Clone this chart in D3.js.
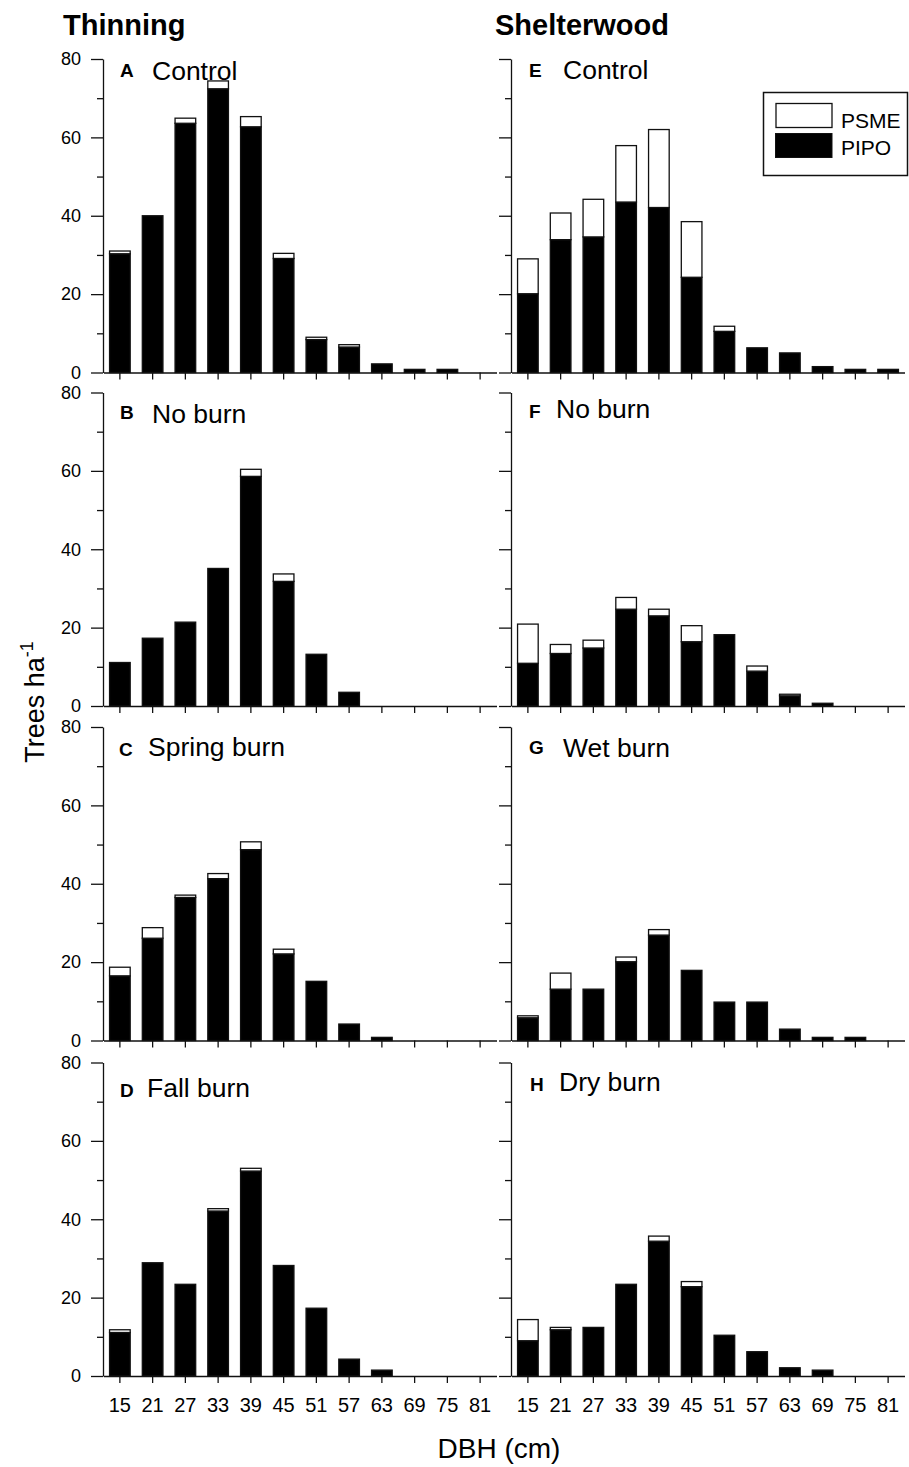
<!DOCTYPE html>
<html>
<head>
<meta charset="utf-8">
<script src="https://cdn.jsdelivr.net/npm/d3@7"></script>
<style>
body { margin: 0; background: #fff; }
svg { font-family: Arial, "Liberation Sans", sans-serif; }
.axis path, .axis line { stroke: #111; stroke-width: 1.3; }
.axis text { fill: #000; }
</style>
</head>
<body>
<svg id="chart" width="909" height="1467"></svg>
<script>
//data//
var dbh = ["15","21","27","33","39","45","51","57","63","69","75","81"];

var panelIds = ["A","B","C","D","E","F","G","H"];
var panelNames = ["Control","No burn","Spring burn","Fall burn","Control","No burn","Wet burn","Dry burn"];

var pipoA = [30.3,40,63.6,72.4,62.7,29.1,8.4,6.5,2.2,0.8,0.8,0];
var psmeA = [0.7,0,1.3,2.0,2.6,1.3,0.6,0.6,0,0,0,0];
var pipoB = [11.1,17.3,21.4,35.1,58.6,31.8,13.2,3.5,0,0,0,0];
var psmeB = [0,0,0,0,1.8,1.9,0,0,0,0,0,0];
var pipoC = [16.5,26.1,36.5,41.3,48.7,22.1,15.1,4.2,0.8,0,0,0];
var psmeC = [2.2,2.7,0.6,1.3,2.0,1.2,0,0,0,0,0,0];
var pipoD = [11.1,28.9,23.4,42.1,52.3,28.2,17.3,4.3,1.5,0,0,0];
var psmeD = [0.7,0,0,0.6,0.7,0,0,0,0,0,0,0];
var pipoE = [20.1,33.9,34.6,43.5,42.1,24.3,10.5,6.3,5.0,1.5,0.8,0.8];
var psmeE = [8.9,6.8,9.6,14.4,19.9,14.2,1.3,0,0,0,0,0];
var pipoF = [10.9,13.4,14.8,24.7,23.0,16.4,18.2,8.9,2.6,0.7,0,0];
var psmeF = [10.0,2.3,2.0,3.0,1.7,4.1,0,1.3,0.4,0,0,0];
var pipoG = [5.8,13.1,13.1,20.1,26.9,17.9,9.8,9.8,2.9,0.8,0.8,0];
var psmeG = [0.5,4.1,0,1.2,1.4,0,0,0,0,0,0,0];
var pipoH = [9.0,11.8,12.4,23.4,34.4,22.8,10.4,6.2,2.1,1.5,0,0];
var psmeH = [5.4,0.6,0,0,1.3,1.3,0,0,0,0,0,0];

var pipoAll = [pipoA,pipoB,pipoC,pipoD,pipoE,pipoF,pipoG,pipoH];
var psmeAll = [psmeA,psmeB,psmeC,psmeD,psmeE,psmeF,psmeG,psmeH];

var yMajor = [0,20,40,60,80];
var yMinor = [10,30,50,70];

//layout//
var colX = [103, 511];           //y axis position of each column//
var rowTop = [59, 392.5, 727, 1062.5];
var panelH = 313.5;
var plotW = 393;

//letter x, name x, baseline of letter, baseline of name (from panel top)//
var labelPos = [
  [120,152,18,21],[120,152,26,30],[119,148,29,29],[120,147,34,34],
  [529,563,18,20],[529,556,25,25],[529,563,27,30],[530,559,28,28]
];

var svg = d3.select("#chart");

var drawPanel = function(i)
{
    var col = Math.floor(i/4);
    var row = i % 4;
    var x0 = colX[col];
    var top = rowTop[row];

    var x = d3.scaleBand()
              .domain(dbh)
              .range([x0 + 0.5, x0 + 0.5 + plotW])
              .paddingInner(0.37)
              .paddingOuter(0.185);

    var y = d3.scaleLinear()
              .domain([0, 80])
              .range([top + panelH, top]);

    var g = svg.append("g").attr("id", "panel" + panelIds[i]);

    var rows = dbh.map(function(d, k)
                {
                  return {dbh: d, pipo: pipoAll[i][k], psme: psmeAll[i][k]};
                });

    //PIPO black//
    g.selectAll(".pipo")
     .data(rows.filter(function(d) { return d.pipo > 0; }))
     .enter()
     .append("rect")
     .attr("class", "pipo")
     .attr("x", function(d) { return x(d.dbh); })
     .attr("width", x.bandwidth())
     .attr("y", function(d) { return y(d.pipo); })
     .attr("height", function(d) { return y(0) - y(d.pipo); })
     .style("fill", "#000")
     .style("stroke", "#111")
     .style("stroke-width", 1.3);

    //PSME white on top//
    g.selectAll(".psme")
     .data(rows.filter(function(d) { return d.psme > 0; }))
     .enter()
     .append("rect")
     .attr("class", "psme")
     .attr("x", function(d) { return x(d.dbh); })
     .attr("width", x.bandwidth())
     .attr("y", function(d) { return y(d.pipo + d.psme); })
     .attr("height", function(d) { return y(d.pipo) - y(d.pipo + d.psme); })
     .style("fill", "#fff")
     .style("stroke", "#111")
     .style("stroke-width", 1.3);

    //x axis//
    var xAxis = d3.axisBottom(x).tickSize(7).tickSizeOuter(0).tickPadding(15);
    var xg = g.append("g")
              .attr("class", "axis")
              .attr("transform", "translate(0," + y(0) + ")")
              .call(xAxis);
    xg.selectAll("text").style("font-size", "20px");
    if (row != 3) { xg.selectAll("text").remove(); }

    //y axis major + minor//
    var yg = g.append("g")
              .attr("class", "axis")
              .attr("transform", "translate(" + x0 + ",0)")
              .call(d3.axisLeft(y).tickValues(yMajor).tickSize(12).tickSizeOuter(0).tickPadding(10));
    yg.selectAll("text").style("font-size", "18px");
    if (col == 1) { yg.selectAll("text").remove(); }

    g.append("g")
     .attr("class", "axis")
     .attr("transform", "translate(" + x0 + ",0)")
     .call(d3.axisLeft(y).tickValues(yMinor).tickSize(6).tickSizeOuter(0).tickFormat(""))
     .select(".domain").remove();

    //panel label//
    var lp = labelPos[i];
    g.append("text")
     .attr("x", lp[0])
     .attr("y", top + lp[2])
     .style("font-size", "19px")
     .style("font-weight", "bold")
     .text(panelIds[i]);
    g.append("text")
     .attr("x", lp[1])
     .attr("y", top + lp[3])
     .style("font-size", "26.5px")
     .text(panelNames[i]);
}

for (var i = 0; i < 8; i++) { drawPanel(i); }

//column titles//
svg.append("text")
   .attr("x", 63).attr("y", 35)
   .style("font-size", "29px").style("font-weight", "bold")
   .text("Thinning");
svg.append("text")
   .attr("x", 495).attr("y", 35)
   .style("font-size", "29px").style("font-weight", "bold")
   .text("Shelterwood");

//axis titles//
var yt = svg.append("text")
            .attr("transform", "translate(44,702) rotate(-90)")
            .attr("text-anchor", "middle")
            .style("font-size", "27px");
yt.append("tspan").text("Trees ha");
yt.append("tspan").attr("dy", -11).style("font-size", "18px").text("-1");

svg.append("text")
   .attr("x", 499).attr("y", 1458)
   .attr("text-anchor", "middle")
   .style("font-size", "28px")
   .text("DBH (cm)");

//legend//
var legend = svg.append("g").attr("id", "legend");
legend.append("rect")
      .attr("x", 763.5).attr("y", 92.5).attr("width", 144).attr("height", 83)
      .style("fill", "#fff").style("stroke", "#111").style("stroke-width", 1.5);
legend.append("rect")
      .attr("x", 776).attr("y", 103.5).attr("width", 56).attr("height", 24)
      .style("fill", "#fff").style("stroke", "#111").style("stroke-width", 1.3);
legend.append("rect")
      .attr("x", 775.5).attr("y", 133.5).attr("width", 56.5).attr("height", 24)
      .style("fill", "#000").style("stroke", "#111").style("stroke-width", 1);
legend.append("text").attr("x", 841).attr("y", 127.5).style("font-size", "21px").text("PSME");
legend.append("text").attr("x", 841).attr("y", 155).style("font-size", "21px").text("PIPO");
</script>
</body>
</html>
